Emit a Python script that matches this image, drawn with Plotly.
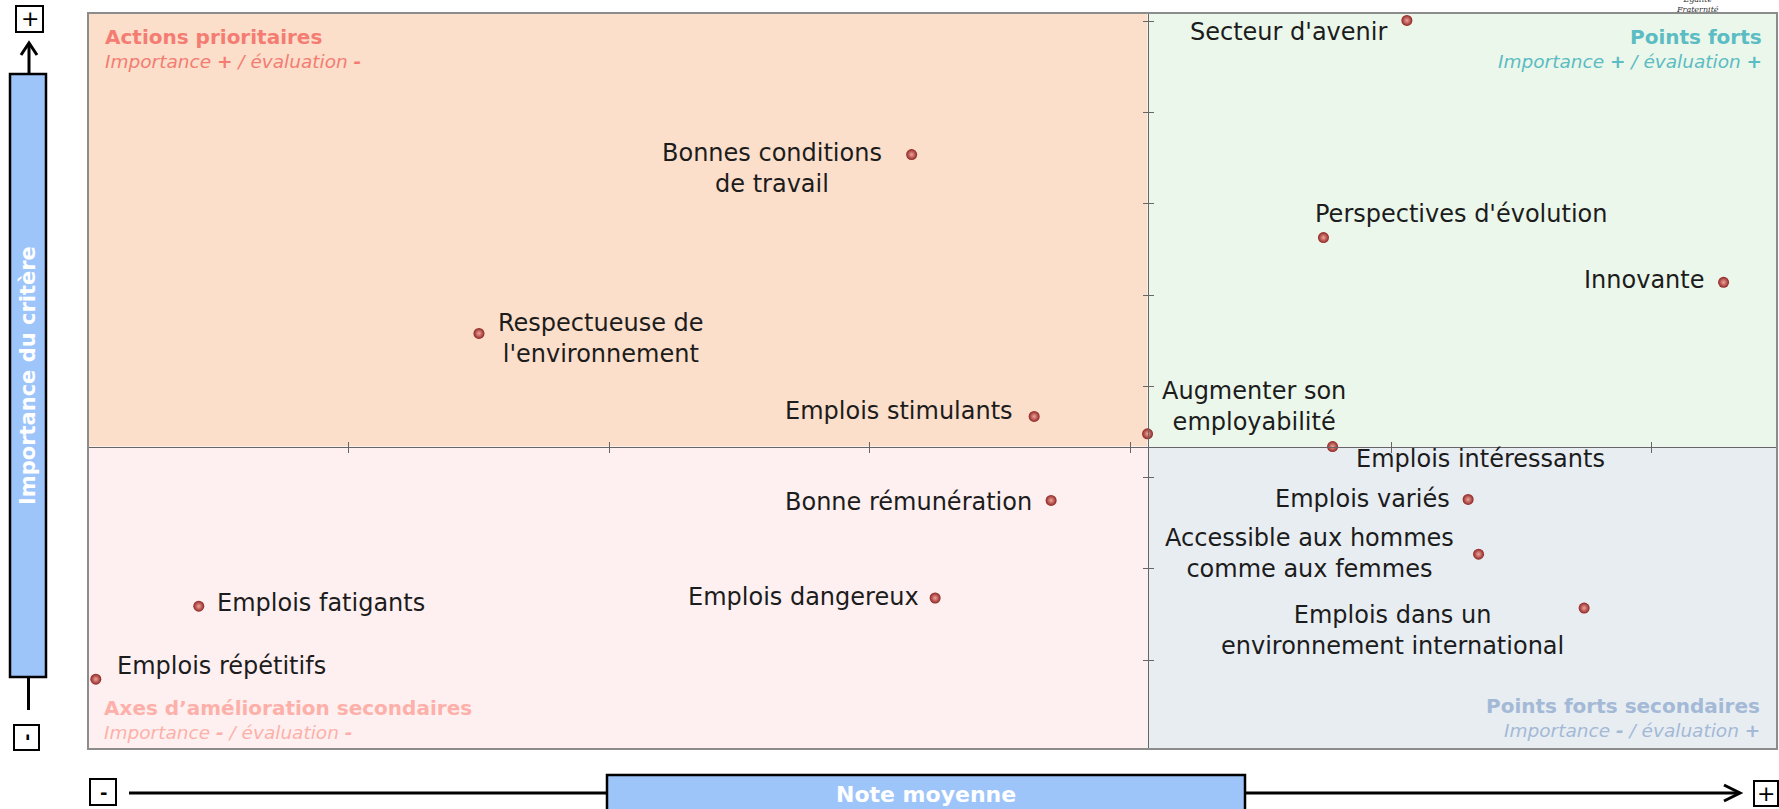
import numpy as np
import plotly.graph_objects as go

# Critères : note moyenne (x) et importance (y)
criteres = [
    "Secteur d'avenir",
    "Bonnes conditions<br>de travail",
    "Perspectives d'évolution",
    "Innovante",
    "Respectueuse de<br>l'environnement",
    "Emplois stimulants",
    "Augmenter son<br>employabilité",
    "Emplois intéressants",
    "Bonne rémunération",
    "Emplois variés",
    "Accessible aux hommes<br>comme aux femmes",
    "Emplois dangereux",
    "Emplois dans un<br>environnement international",
    "Emplois fatigants",
    "Emplois répétitifs",
]
note_moyenne = [7.012, 6.632, 6.948, 7.255, 6.300, 6.726, 6.813, 6.955,
                6.739, 7.059, 7.067, 6.650, 7.148, 6.085, 6.006]
importance = [9.01, 7.54, 6.63, 6.14, 5.58, 4.67, 4.48, 4.34,
              3.75, 3.76, 3.16, 2.68, 2.57, 2.59, 1.79]

x_range = [6.0, 7.296]
y_range = [1.025, 9.092]

# placement des étiquettes (ancre, décalage x, décalage y) en pixels
label_pos = [
    ("right", -18, -12), ("right", -28, -14), ("left", -10, 24),
    ("right", -18, 2), ("left", 17, -5), ("right", -19, 5),
    ("left", 12, 27), ("left", 21, -12), ("right", -17, -2),
    ("right", -16, 0), ("right", -23, 1), ("right", -14, 1),
    ("right", -18, -22), ("left", 16, 3), ("left", 19, 13),
]

FONT = "DejaVu Sans"
x_med = float(np.median(note_moyenne))
y_med = float(np.median(importance))

W, H = 1779, 809
# zone du graphique en pixels
PL, PR, PT, PB = 88, 1777, 13, 749
def px(v):
    return (v - PL) / (PR - PL)
def py(v):
    return (PB - v) / (PB - PT)

fig = go.Figure()
fig.add_trace(go.Scatter(
    x=note_moyenne, y=importance, mode="markers",
    marker=dict(size=11, color="#8f2422",
                gradient=dict(type="radial", color="#f0a49c"),
                line=dict(width=0)),
    hoverinfo="skip", showlegend=False,
))
# trace invisible pour les axes superposés (tirets intérieurs)
fig.add_trace(go.Scatter(x=[x_med], y=[y_med], xaxis="x2", yaxis="y2",
                         mode="markers", marker=dict(opacity=0),
                         showlegend=False, hoverinfo="skip"))

for name, xv, yv, (anc, dx, dy) in zip(criteres, note_moyenne, importance, label_pos):
    fig.add_annotation(x=xv, y=yv, text=name, showarrow=False,
                       xanchor=anc, yanchor="middle", xshift=dx, yshift=dy,
                       align="center", font=dict(family=FONT, size=24, color="#1c1c1c"))

# fonds des quadrants
quadrants = [
    (x_range[0], x_med, y_med, y_range[1], "#fbdfcb"),
    (x_med, x_range[1], y_med, y_range[1], "#ebf7ea"),
    (x_range[0], x_med, y_range[0], y_med, "#fef0f0"),
    (x_med, x_range[1], y_range[0], y_med, "#e8edf2"),
]
for x0, x1, y0, y1, col in quadrants:
    fig.add_shape(type="rect", xref="x", yref="y", x0=x0, x1=x1, y0=y0, y1=y1,
                  fillcolor=col, line=dict(width=0), layer="below")
fig.add_shape(type="rect", xref="paper", yref="paper", x0=0, x1=1, y0=0, y1=1,
              line=dict(color="#8c8c8c", width=2), layer="above")

def note(x, y, text, size, color, angle=0, family=FONT, anchor="center"):
    fig.add_annotation(xref="paper", yref="paper", x=x, y=y, text=text,
                       textangle=angle, showarrow=False,
                       xanchor=anchor, yanchor="middle",
                       font=dict(family=family, size=size, color=color))

# titres des quadrants
titles = [
    ("Actions prioritaires", "+", "-", "#f47c72", "left", px(103), py(37), py(62)),
    ("Points forts", "+", "+", "#5bbcc3", "right", px(1764), py(37), py(62)),
    ("Axes d’amélioration secondaires", "-", "-", "#fdb0a9", "left", px(102), py(708), py(732)),
    ("Points forts secondaires", "-", "+", "#a3b9d6", "right", px(1762), py(706), py(730)),
]
for t, s1, s2, col, anc, xx, y1, y2 in titles:
    note(xx, y1, f"<b>{t}</b>", 20, col, anchor=anc)
    note(xx, y2, f"<i>Importance <b>{s1}</b> / évaluation <b>{s2}</b></i>", 18.5, col,
         anchor=anc)

def line_path(pts, width=3):
    d = " L ".join(f"{px(a)},{py(b)}" for a, b in pts)
    fig.add_shape(type="path", xref="paper", yref="paper", path="M " + d,
                  line=dict(color="black", width=width))

def box(x0, x1, y0, y1, fill="white", width=2):
    fig.add_shape(type="rect", xref="paper", yref="paper", x0=px(x0), x1=px(x1),
                  y0=py(y0), y1=py(y1), fillcolor=fill,
                  line=dict(color="black", width=width))

# axe vertical décoratif
blue = "#9ec5fa"
box(10, 46, 74, 677, fill=blue, width=2.5)
note(px(28), py(376), "<b>Importance du critère</b>", 21, "white", angle=-90)
line_path([(29, 74), (29, 43)])
line_path([(21, 55), (29, 43), (37, 55)])
line_path([(28.5, 677), (28.5, 710)])
box(16, 43, 6, 32)
note(px(29.5), py(19), "+", 22, "black")
box(14, 39, 725, 750)
note(px(26.5), py(737.5), "<b>-</b>", 18, "black", angle=-90)

# axe horizontal décoratif
line_path([(129, 793), (1740, 793)])
line_path([(1724, 785), (1740, 793), (1724, 801)])
box(607, 1245, 775, 815, fill=blue, width=2.5)
note(px(926), py(794), "<b>Note moyenne</b>", 22, "white")
box(90, 116, 779, 805)
note(px(103), py(792), "<b>-</b>", 18, "black")
box(1754, 1778, 781, 806)
note(px(1766), py(793.5), "+", 22, "black")

# petit logo tronqué en haut
note(px(1697), py(4), "<i>Égalité<br>Fraternité</i>", 8, "#333", family="DejaVu Serif")

x_pos = (y_med - y_range[0]) / (y_range[1] - y_range[0])
y_pos = (x_med - x_range[0]) / (x_range[1] - x_range[0])
axis_common = dict(showgrid=False, zeroline=False, showticklabels=False,
                   tickcolor="#666", ticklen=5, tickwidth=1, anchor="free")

fig.update_layout(
    width=W, height=H,
    margin=dict(l=PL, r=W - PR, t=PT, b=H - PB, autoexpand=False),
    paper_bgcolor="white", plot_bgcolor="white",
    font=dict(family=FONT),
    xaxis=dict(range=x_range, tick0=6.0, dtick=0.2, showline=True,
               linecolor="#666", linewidth=1, ticks="outside",
               position=x_pos, **axis_common),
    yaxis=dict(range=y_range, tick0=2, dtick=1, showline=True,
               linecolor="#666", linewidth=1, ticks="outside",
               position=y_pos, **axis_common),
    xaxis2=dict(overlaying="x", matches="x", tick0=6.0, dtick=0.2, showline=False,
                ticks="inside", position=x_pos, **axis_common),
    yaxis2=dict(overlaying="y", matches="y", tick0=2, dtick=1, showline=False,
                ticks="inside", position=y_pos, **axis_common),
)

# retire la marge par défaut du body pour que la figure occupe toute la page
fig.write_html("out.html", config={"displayModeBar": False},
               post_script="document.body.style.margin='0';"
                           "document.body.style.overflow='hidden';")
